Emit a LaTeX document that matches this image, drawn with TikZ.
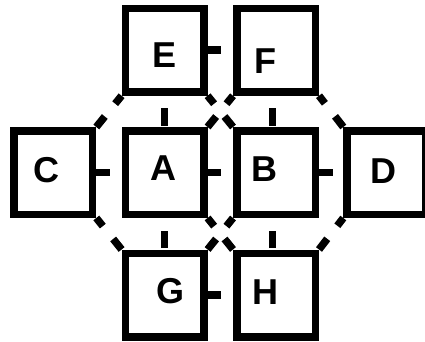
\documentclass[tikz,border=0pt]{standalone}
\usepackage{fontspec}
\setmainfont{Liberation Sans}
\begin{document}
\begin{tikzpicture}[x=1pt,y=-1pt,
  box/.style={draw=black, line width=7.5pt, fill=white, minimum width=78.5pt,
    minimum height=83.5pt, inner sep=0pt, outer sep=3.75pt},
  lbl/.style={font=\fontsize{36}{36}\selectfont\bfseries, inner sep=0pt},
  conn/.style={line width=7.5pt, line cap=butt},
  hstub/.style={conn, dash pattern=on 13.5pt off 200pt},
  vstub/.style={conn, shorten <=1.5pt, dash pattern=on 17pt off 200pt},
  diag/.style={conn, dash pattern=on 13.5pt off 16.5pt on 30pt off 10pt}]
\fill[white] (0,0) rectangle (425,342);
\useasboundingbox (0,0) rectangle (425,342);
% boxes
\node[box] (E) at (164.6,50.25) {};
\node[box] (F) at (276,50.25) {};
\node[box] (C) at (53.3,172.5) {};
\node[box] (A) at (164.6,172.5) {};
\node[box] (B) at (276,172.5) {};
\node[box] (D) at (386.3,172.5) {};
\node[box] (G) at (164.6,295) {};
\node[box] (H) at (276,295) {};
% labels
\node[lbl] (tE) at ([shift={(0.4,5.25)}]E.center) {E};
\node[lbl] (tF) at ([shift={(-10.2,10.95)}]F.center) {F};
\node[lbl] (tC) at ([shift={(-7,-2.5)}]C.center) {C};
\node[lbl] (tA) at ([shift={(-1.6,-4.2)}]A.center) {A};
\node[lbl] (tB) at ([shift={(-11.3,-3.2)}]B.center) {B};
\node[lbl] (tD) at ([shift={(-2.6,-1.8)}]D.center) {D};
\node[lbl] (tG) at ([shift={(5.4,-4)}]G.center) {G};
\node[lbl] (tH) at ([shift={(-11,-3)}]H.center) {H};
% horizontal connectors
\draw[hstub] (E.east) -- (F.west);
\draw[hstub] (C.east) -- (A.west);
\draw[hstub] (A.east) -- (B.west);
\draw[hstub] (B.east) -- (D.west);
\draw[hstub] (G.east) -- (H.west);
% vertical connectors
\draw[vstub] (A.north) -- (E.south);
\draw[vstub] ([xshift=-3.5pt]B.north) -- ([xshift=-3.5pt]F.south);
\draw[vstub] (G.north) -- (A.south);
\draw[vstub] ([xshift=-3.5pt]H.north) -- ([xshift=-3.5pt]B.south);
% diagonal connectors
\draw[diag] (C.north east) -- (E.south west);
\draw[diag] (B.north west) -- (E.south east);
\draw[diag] (A.north east) -- (F.south west);
\draw[diag] (D.north west) -- (F.south east);
\draw[diag] (G.north west) -- (C.south east);
\draw[diag] (G.north east) -- (B.south west);
\draw[diag] (H.north west) -- (A.south east);
\draw[diag] (H.north east) -- (D.south west);
\end{tikzpicture}
\end{document}
